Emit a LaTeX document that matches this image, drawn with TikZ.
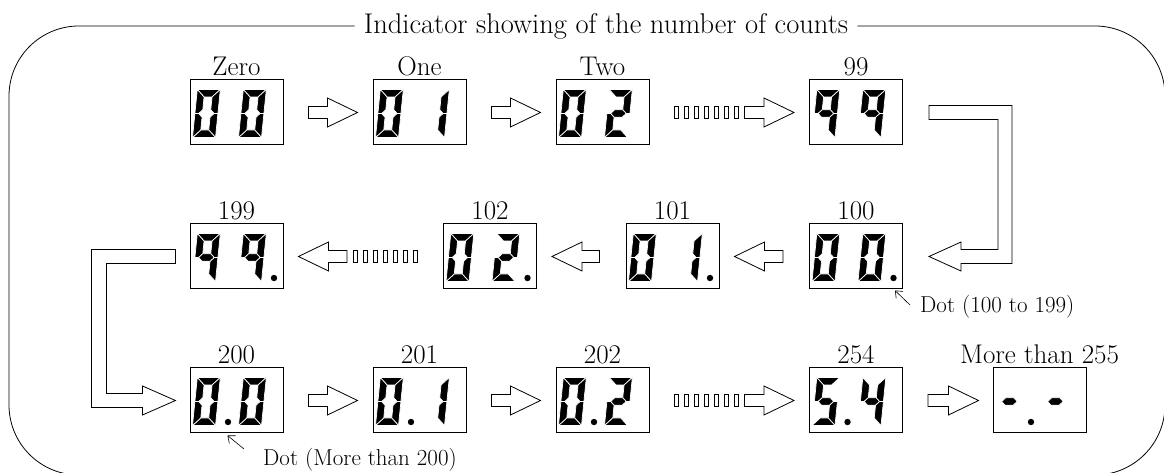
\documentclass[tikz,border=0pt]{standalone}
\usetikzlibrary{calc,arrows.meta}

\tikzset{
  seg/.style={fill=black, draw=white, line width=0.7pt, line join=miter},
  disp/.style={draw, line width=1pt, minimum width=93pt, minimum height=65pt, inner sep=0pt},
  lbl/.style={font=\fontsize{27}{32}\selectfont, inner sep=0pt, anchor=base},
  ttl/.style={font=\fontsize{28.5}{34}\selectfont, inner xsep=9pt, inner ysep=0pt},
  note/.style={font=\fontsize{23}{27}\selectfont, inner sep=0pt, anchor=base west},
  blk/.style={draw, line width=0.8pt, line join=miter},
  tick/.style={draw, line width=0.7pt},
  frame/.style={draw, line width=0.8pt, rounded corners=70pt},
  ann/.style={draw, line width=0.6pt, -{Straight Barb[length=6pt,width=10pt]}},
}

% seven-segment pieces, local frame 23 x 48, stroke 7.5
\newcommand\SegA{\path[seg] (0,48)--(23,48)--(15.5,40.5)--(7.5,40.5)--cycle;}
\newcommand\SegB{\path[seg] (23,48)--(15.5,40.5)--(15.5,27.75)--(19.25,24)--(23,24)--cycle;}
\newcommand\SegC{\path[seg] (23,0)--(15.5,7.5)--(15.5,20.25)--(19.25,24)--(23,24)--cycle;}
\newcommand\SegD{\path[seg] (0,0)--(23,0)--(15.5,7.5)--(7.5,7.5)--cycle;}
\newcommand\SegE{\path[seg] (0,0)--(7.5,7.5)--(7.5,20.25)--(3.75,24)--(0,24)--cycle;}
\newcommand\SegF{\path[seg] (0,48)--(7.5,40.5)--(7.5,27.75)--(3.75,24)--(0,24)--cycle;}
\newcommand\SegG{\path[seg] (3.75,24)--(7.5,27.75)--(15.5,27.75)--(19.25,24)--(15.5,20.25)--(7.5,20.25)--cycle;}
\newcommand\DZero{\SegA\SegB\SegC\SegD\SegE\SegF}
\newcommand\DOne{\SegB\SegC}
\newcommand\DTwo{\SegA\SegB\SegG\SegE\SegD}
\newcommand\DFour{\SegF\SegG\SegB\SegC}
\newcommand\DFive{\SegA\SegF\SegG\SegC\SegD}
\newcommand\DNine{\SegA\SegB\SegC\SegF\SegG}
\newcommand\DDash{\SegG}

% display: name, position, label, left digit, right digit, extra (dots)
\newcommand\Disp[6]{%
  \node[disp] (#1) at (#2) {};
  \node[lbl] (#1-l) at ($(#1.north)+(0,4)$) {#3};
  \begin{scope}[shift={($(#1.south west)+(3,8)$)},xslant=0.1]#4\end{scope}
  \begin{scope}[shift={($(#1.south west)+(49,8)$)},xslant=0.1]#5\end{scope}
  #6}
\newcommand\DpL[1]{\fill ($(#1.south west)+(38.5,11.5)$) circle (3.2pt);}
\newcommand\DpR[1]{\fill ($(#1.south west)+(84.5,11.5)$) circle (3.2pt);}

% hollow block arrow from tail point to tip point (horizontal)
\newcommand\HArrow[2]{%
  \draw[blk] let \p1=(#1), \p2=(#2), \n2={\x2-30*sign(\x2-\x1)} in
    (\x1,\y1+6pt) -- (\n2,\y1+6pt) -- (\n2,\y1+14.5pt) -- (\x2,\y1)
    -- (\n2,\y1-14.5pt) -- (\n2,\y1-6pt) -- (\x1,\y1-6pt) -- cycle;}

\begin{document}
\begin{tikzpicture}[x=1pt,y=1pt]
\useasboundingbox (0,0) rectangle (1164,473);
\clip (0,0) rectangle (1164,473);

% title and surrounding frame
\node[ttl] (ttl) at (606,447) {Indicator showing of the number of counts};
\draw[frame] (ttl.west) -- (9,447) -- (9,-2) -- (1165,-2) -- (1165,447) -- (ttl.east);

% first row
\Disp{z}{236.5,360.5}{Zero}{\DZero}{\DZero}{}
\Disp{one}{419.5,360.5}{One}{\DZero}{\DOne}{}
\Disp{two}{602.5,360.5}{Two}{\DZero}{\DTwo}{}
\Disp{b99}{856,360.5}{99}{\DNine}{\DNine}{}

% second row
\Disp{b100}{856,216.5}{100}{\DZero}{\DZero}{\DpR{b100}}
\Disp{b101}{672.5,216.5}{101}{\DZero}{\DOne}{\DpR{b101}}
\Disp{b102}{490,216.5}{102}{\DZero}{\DTwo}{\DpR{b102}}
\Disp{b199}{236.5,216.5}{199}{\DNine}{\DNine}{\DpR{b199}}

% third row
\Disp{b200}{236.5,72.5}{200}{\DZero}{\DZero}{\DpL{b200}}
\Disp{b201}{419.5,72.5}{201}{\DZero}{\DOne}{\DpL{b201}}
\Disp{b202}{602.5,72.5}{202}{\DZero}{\DTwo}{\DpL{b202}}
\Disp{b254}{856,72.5}{254}{\DFive}{\DFour}{\DpL{b254}}
\Disp{bmax}{1039.5,72.5}{More than 255}{\DDash}{\DDash}{\DpL{bmax}}

% row 1 arrows
\HArrow{$(z.east)+(25,0)$}{$(one.west)+(-15,0)$}
\HArrow{$(one.east)+(25,0)$}{$(two.west)+(-15,0)$}
\foreach \k in {0,...,6}{\path[tick] ($(two.east)+(25+10*\k,-6)$) rectangle ++(4,12);}
\HArrow{$(two.east)+(95,0)$}{$(b99.west)+(-15,0)$}

% turn from 99 down to 100
\draw[blk] let \p1=(b99.east), \p2=(b100.east) in
  (\x1+26pt,\y1+7pt) -- (\x1+109pt,\y1+7pt) -- (\x1+109pt,\y2-7pt)
  -- (\x2+58pt,\y2-7pt) -- (\x2+58pt,\y2-14.5pt) -- (\x2+26pt,\y2)
  -- (\x2+58pt,\y2+14.5pt) -- (\x2+58pt,\y2+7pt) -- (\x1+95pt,\y2+7pt)
  -- (\x1+95pt,\y1-7pt) -- (\x1+26pt,\y1-7pt) -- cycle;

% row 2 arrows (leftwards)
\HArrow{$(b100.west)+(-26,0)$}{$(b101.east)+(15,0)$}
\HArrow{$(b101.west)+(-26,0)$}{$(b102.east)+(15,0)$}
\foreach \k in {0,...,6}{\path[tick] ($(b102.west)+(-30-10*\k,-6)$) rectangle ++(4,12);}
\HArrow{$(b102.west)+(-96,0)$}{$(b199.east)+(15,0)$}

% turn from 199 down to 200
\draw[blk] let \p1=(b199.west), \p2=(b200.west) in
  (\x1-14pt,\y1+7pt) -- (\x1-98pt,\y1+7pt) -- (\x1-98pt,\y2-7pt)
  -- (\x2-47pt,\y2-7pt) -- (\x2-47pt,\y2-14.5pt) -- (\x2-14pt,\y2)
  -- (\x2-47pt,\y2+14.5pt) -- (\x2-47pt,\y2+7pt) -- (\x1-83pt,\y2+7pt)
  -- (\x1-83pt,\y1-7pt) -- (\x1-14pt,\y1-7pt) -- cycle;

% row 3 arrows
\HArrow{$(b200.east)+(25,0)$}{$(b201.west)+(-15,0)$}
\HArrow{$(b201.east)+(25,0)$}{$(b202.west)+(-15,0)$}
\foreach \k in {0,...,6}{\path[tick] ($(b202.east)+(25+10*\k,-6)$) rectangle ++(4,12);}
\HArrow{$(b202.east)+(95,0)$}{$(b254.west)+(-15,0)$}
\HArrow{$(b254.east)+(25,0)$}{$(bmax.west)+(-14,0)$}

% decimal point notes
\node[note] (n1) at (920,160) {Dot (100 to 199)};
\coordinate (n1a) at ($(n1.base west)+(-10,8)$);
\coordinate (p100) at ($(b100.south east)+(-8,-1)$);
\draw[ann] (n1a) -- (p100);

\node[note] (n2) at (263,7) {Dot (More than 200)};
\coordinate (n2a) at ($(n2.base west)+(-19,17)$);
\coordinate (p200) at ($(b200.south west)+(38,-2)$);
\draw[ann] (n2a) -- (p200);
\end{tikzpicture}
\end{document}
